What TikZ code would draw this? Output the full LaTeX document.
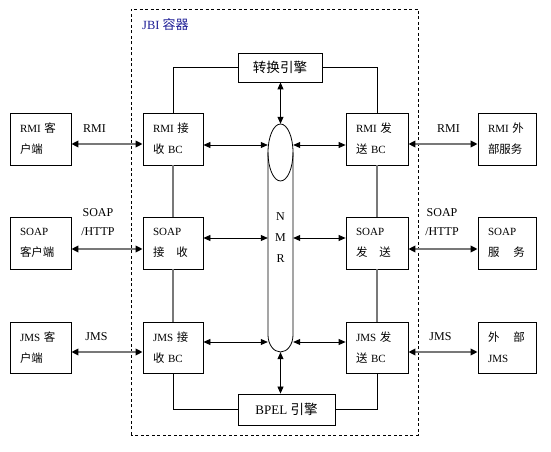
\documentclass[tikz,border=0pt]{standalone}
\usepackage{fontspec}
\setmainfont{Liberation Serif}
\newfontfamily\cjkf{Noto Sans CJK SC}[Scale=1.04]
\newcommand\zh[1]{{\cjkf #1}}
\usetikzlibrary{arrows.meta,calc}
\definecolor{jbiblue}{RGB}{30,30,150}
\definecolor{lgray}{RGB}{120,120,120}
\tikzset{
  box/.style={draw, line width=0.8pt, inner xsep=10pt, inner ysep=0pt, align=left,
    font=\fontsize{11}{21}\selectfont, anchor=center},
  engine/.style={draw, line width=0.8pt, inner sep=0pt, align=center,
    font=\fontsize{13}{15}\selectfont},
  lbl/.style={font=\fontsize{12}{19}\selectfont, inner sep=0pt, align=center},
  outer/.style={lgray, line width=2pt, {Triangle[color=black,length=7pt,width=6.5pt]}-{Triangle[color=black,length=7pt,width=6.5pt]}},
  inner/.style={black, line width=0.8pt, {Triangle[length=7pt,width=6pt]}-{Triangle[length=7pt,width=6pt]}},
  conn/.style={black, line width=0.8pt},
  gconn/.style={lgray, line width=1.5pt},
}
\begin{document}
\begin{tikzpicture}[x=1pt,y=1pt]
\useasboundingbox (0,0) rectangle (551,452);
% container
\draw[line width=0.8pt, dash pattern=on 3pt off 2.5pt] (131,17) rectangle (418,443);
\node[anchor=west, inner sep=0pt, text=jbiblue, font=\fontsize{12.5}{14}\selectfont] (jbi) at (142,427) {JBI \zh{容器}};
% engines
\node[engine, minimum width=84pt, minimum height=29pt] (t) at (280,384.5) {\zh{转换引擎}};
\node[engine, minimum width=97pt, minimum height=31pt] (bpel) at (286.5,42.5) {BPEL \zh{引擎}};
% client boxes
\node[box, text width=41pt, minimum height=52pt] (c1) at (40.5,313) {RMI \zh{客}\\\zh{户端}};
\node[box, text width=41pt, minimum height=52pt] (c2) at (40.5,209) {SOAP\\\zh{客户端}};
\node[box, text width=41pt, minimum height=51pt] (c3) at (40.5,104.5) {JMS \zh{客}\\\zh{户端}};
% receive
\node[box, text width=40pt, minimum height=52pt] (r1) at (173,313) {RMI \zh{接}\\\zh{收} BC};
\node[box, text width=40pt, minimum height=52pt] (r2) at (173,209) {SOAP\\\zh{接}\hspace{12pt}\zh{收}};
\node[box, text width=40pt, minimum height=51pt] (r3) at (173,104.5) {JMS \zh{接}\\\zh{收} BC};
% send
\node[box, text width=42pt, minimum height=52pt] (s1) at (377,313) {RMI \zh{发}\\\zh{送} BC};
\node[box, text width=42pt, minimum height=52pt] (s2) at (377,209) {SOAP\\\zh{发}\hspace{12pt}\zh{送}};
\node[box, text width=42pt, minimum height=51pt] (s3) at (377,104.5) {JMS \zh{发}\\\zh{送} BC};
% external
\node[box, text width=38pt, minimum height=52pt] (e1) at (507,313) {RMI \zh{外}\\\zh{部服务}};
\node[box, text width=38pt, minimum height=52pt] (e2) at (507,209) {SOAP\\\zh{服}\hspace{14pt}\zh{务}};
\node[box, text width=38pt, minimum height=51pt] (e3) at (507,104.5) {\zh{外}\hspace{14pt}\zh{部}\\JMS};
% NMR
\node[minimum width=25pt, minimum height=228pt, inner sep=0pt, align=center,
  font=\fontsize{12}{21}\selectfont] (nmr) at (280.5,214) {N\\M\\R};
\draw[line width=0.8pt] (280.5,299.5) ellipse[x radius=12.5, y radius=28.5];
\draw[line width=0.8pt] (268,299.5) -- (268,117) arc[start angle=180, end angle=360, x radius=12.5, y radius=17] -- (293,299.5);
% structure connectors
\draw[conn] (t.west) -| (r1.north);
\draw[conn] (t.east) -| (s1.north);
\draw[conn] (r3.south) |- (bpel.west);
\draw[conn] (s3.south) |- (bpel.east);
\draw[gconn] (r1.south) -- (r2.north);
\draw[gconn] (r2.south) -- (r3.north);
\draw[gconn] (s1.south) -- (s2.north);
\draw[gconn] (s2.south) -- (s3.north);
% outer arrows
\draw[outer] ([yshift=-5pt]c1.east) -- ([yshift=-5pt]r1.west);
\draw[outer] ([yshift=-6pt]c2.east) -- ([yshift=-6pt]r2.west);
\draw[outer] ([yshift=-4.5pt]c3.east) -- ([yshift=-4.5pt]r3.west);
\draw[outer] ([yshift=-5pt]s1.east) -- ([yshift=-5pt]e1.west);
\draw[outer] ([yshift=-6pt]s2.east) -- ([yshift=-6pt]e2.west);
\draw[outer] ([yshift=-4.5pt]s3.east) -- ([yshift=-4.5pt]e3.west);
% inner arrows
\draw[inner] ([yshift=-6pt]r1.east) -- ([yshift=-6pt]r1.east -| nmr.west);
\draw[inner] ([yshift=5pt]r2.east) -- ([yshift=5pt]r2.east -| nmr.west);
\draw[inner] ([yshift=5.5pt]r3.east) -- ([yshift=5.5pt]r3.east -| nmr.west);
\draw[inner] ([yshift=-6pt]s1.west -| nmr.east) -- ([yshift=-6pt]s1.west);
\draw[inner] ([yshift=5pt]s2.west -| nmr.east) -- ([yshift=5pt]s2.west);
\draw[inner] ([yshift=5.5pt]s3.west -| nmr.east) -- ([yshift=5.5pt]s3.west);
\draw[inner] (nmr.north |- t.south) -- (nmr.north);
\draw[inner] (nmr.south) -- (nmr.south |- bpel.north);
% labels
\node[lbl] (l1) at (94.5,323) {RMI};
\node[lbl] (l2) at (448.5,323) {RMI};
\node[lbl] (l3) at (98,229.5) {SOAP\\/HTTP};
\node[lbl] (l4) at (442,229.5) {SOAP\\/HTTP};
\node[lbl] (l5) at (96.5,115) {JMS};
\node[lbl] (l6) at (440.5,115) {JMS};
\end{tikzpicture}
\end{document}
